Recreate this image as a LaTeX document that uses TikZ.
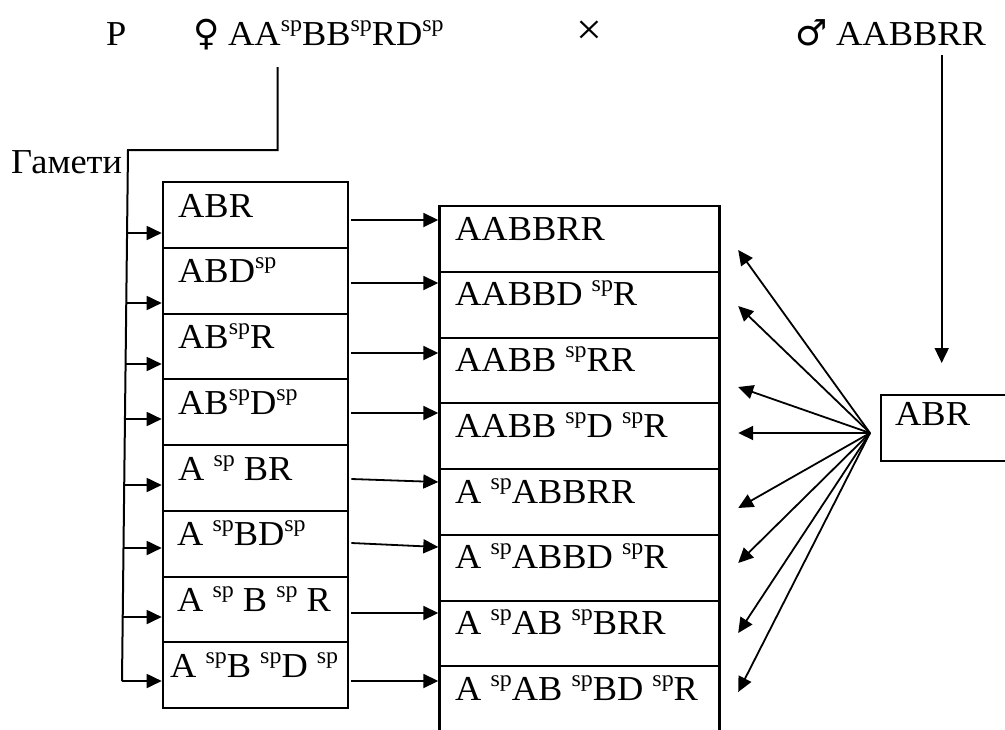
\documentclass[tikz,border=0pt]{standalone}
\usepackage{fontspec}
\setmainfont{Liberation Serif}[FakeStretch=1.04]
\newfontfamily\symf{DejaVu Sans}
\usetikzlibrary{arrows.meta,calc}
\newcommand{\SP}{\raisebox{14pt}{\fontsize{23}{23}\selectfont sp}}
\begin{document}
\begin{tikzpicture}[x=1pt,y=-1pt,
  lbox/.style={draw,line width=2.2pt,minimum width=185pt,minimum height=65.75pt,inner sep=0pt,anchor=north west},
  mbox/.style={draw,line width=2.2pt,minimum width=280pt,minimum height=65.75pt,inner sep=0pt,anchor=north west},
  txt/.style={font=\fontsize{35}{42}\selectfont,inner sep=0pt,anchor=base west},
  ln/.style={line width=2pt},
  arr/.style={line width=1.8pt,-{Triangle[length=15pt,width=14pt]}}
]
\useasboundingbox[fill=white] (0,0) rectangle (1005,729);

% top row
\node[txt] (P) at (106,45) {P};
\node[txt,font=\fontsize{36}{42}\symf] (fsym) at (193,45) {♀};
\node[txt] (fem) at (228,45) {AA\SP BB\SP RD\SP};
\node[inner sep=0pt,font=\fontsize{44}{50}\selectfont] (x) at (589,33) {×};
\node[txt,font=\fontsize{36}{42}\symf] (msym) at (795,45) {♂};
\node[txt] (male) at (836,45) {AABBRR};
\node[txt] (gam) at (11,173) {Гамети};

% left boxes
\foreach \i/\t/\tx in {1/ABR/178,2/ABD\SP/178,3/AB\SP R/178,4/AB\SP D\SP/178,
  5/A \SP{} BR/178,6/A \SP BD\SP/177,7/A \SP{} B \SP{} R/177,8/A \SP B \SP D \SP/170}{
  \node[lbox] (L\i) at (161.7,{181+65.75*(\i-1)}) {};
  \node[txt] (lt\i) at (\tx,{181+65.75*(\i-1)+36}) {\t};
}
% middle boxes
\foreach \i/\t in {1/AABBRR,2/AABBD \SP R,3/AABB \SP RR,4/AABB \SP D \SP R,
  5/A \SP ABBRR,6/A \SP ABBD \SP R,7/A \SP AB \SP BRR,8/A \SP AB \SP BD \SP R}{
  \node[mbox] (M\i) at (438.3,{205+65.75*(\i-1)}) {};
  \node[txt] (mt\i) at (455,{205+65.75*(\i-1)+35}) {\t};
}
% right box
\node[draw,line width=2.2pt,minimum width=135pt,minimum height=66pt,inner sep=0pt,anchor=north west] (R) at (880,394) {};
\node[txt] (rt) at (895,425) {ABR};

% female trunk
\coordinate (fTop) at (277.7,67);
\coordinate (tTop) at (128,150);
\coordinate (tBot) at (122,681);
\draw[ln] (fTop) -- (tTop -| fTop) -- (tTop) -- (tBot);
\foreach \i/\y in {1/233,2/303,3/364,4/419,5/485,6/548,7/617,8/681}{
  \coordinate (b\i) at (0,\y);
  \draw[arr] ($(tTop)!{(\y-150)/531}!(tBot)$) -- (L\i.west |- b\i);
}
% left to middle
\foreach \i/\ya/\yb in {1/220/220,2/283/283,3/353/353,4/413/413,5/479/482,6/543/547,7/613/613,8/681/681}{
  \coordinate (s\i) at (0,\ya);
  \coordinate (e\i) at (0,\yb);
  \draw[arr] ($(L\i.east |- s\i)+(2.5,0)$) -- (M\i.west |- e\i);
}
% male
\coordinate (mTop) at (941.7,55);
\draw[arr] (mTop) -- ($(R.north -| mTop)+(0,-31)$);
% fan
\coordinate (F) at (870,433);
\foreach \i/\y in {1/250,2/306,3/387,4/433,5/508,6/563,7/633,8/692}{
  \coordinate (t\i) at (0,\y);
  \draw[arr] (F) -- ($(M\i.east |- t\i)+(17.7,0)$);
}
\end{tikzpicture}
\end{document}
